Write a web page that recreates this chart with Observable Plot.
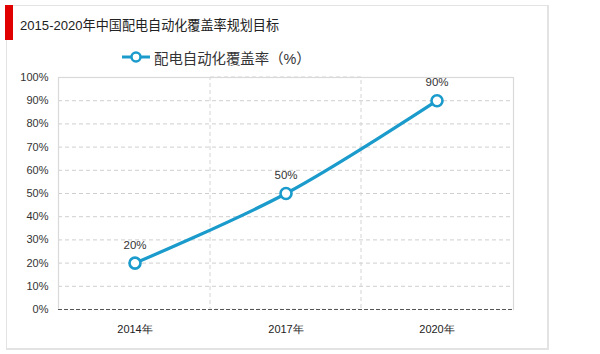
<!DOCTYPE html>
<html><head><meta charset="utf-8">
<script src="https://cdn.jsdelivr.net/npm/d3@7"></script>
<script src="https://cdn.jsdelivr.net/npm/@observablehq/plot@0.6"></script>
<style>
body{margin:0;background:#fff;font-family:"Liberation Sans","Noto Sans CJK SC",Arial,sans-serif;}
#wrap{position:relative;width:600px;height:354px;overflow:hidden;}
#frame{position:absolute;left:6px;top:5px;width:543px;height:345px;border:1.5px solid #e3e3e3;box-sizing:border-box;border-bottom-width:2px;border-right-width:2px;}
#redbar{position:absolute;left:5px;top:5px;width:8px;height:35px;background:#e00000;}
#title{position:absolute;left:20px;top:15px;font-size:13.1px;color:#222;white-space:nowrap;font-family:"Liberation Sans","Noto Sans CJK SC",sans-serif;}
#legend{position:absolute;left:120px;top:47px;height:20px;display:flex;align-items:center;font-size:14.4px;color:#333;white-space:nowrap;}
#chart{position:absolute;left:0;top:0;}
</style></head>
<body><div id="wrap"><div id="frame"></div><div id="redbar"></div>
<div id="title">2015-2020年中国配电自动化覆盖率规划目标</div>
<div id="legend"><svg width="32" height="14"><line x1="2" y1="7" x2="30" y2="7" stroke="#1a9bcb" stroke-width="3"/><circle cx="16" cy="7" r="4.5" fill="#fff" stroke="#1a9bcb" stroke-width="2.5"/></svg><span style="margin-left:2px">配电自动化覆盖率（%）</span></div>
<div id="chart"></div></div>
<script>
const years = ["2014年", "2017年", "2020年"];
const values = [20, 50, 90];
const yTicks = [0, 10, 20, 30, 40, 50, 60, 70, 80, 90, 100];
const gridTicks = [10, 20, 30, 40, 50, 60, 70, 80, 90];

const data = years.map((y, i) => ({year: y, value: values[i]}));
const color = "#1a9bcb";

const chart = Plot.plot({
  width: 600,
  height: 354,
  marginLeft: 58,
  marginRight: 87,
  marginTop: 77,
  marginBottom: 45,
  style: {fontFamily: "Liberation Sans, Arial, sans-serif", fontSize: "11px", color: "#333", background: "transparent"},
  x: {domain: years, padding: 0, label: null},
  y: {domain: [0, 100], label: null},
  marks: [
    Plot.gridY(gridTicks, {stroke: "#cfcfcf", strokeOpacity: 1, strokeDasharray: "4,3"}),
    Plot.cell([years[1]], {x: d => d, fill: "none", stroke: "#d4d4d4", strokeDasharray: "4,3", inset: 0}),
    Plot.frame({stroke: "#d9d9d9", strokeWidth: 1.2}),
    Plot.ruleY([0], {stroke: "#fff", strokeWidth: 2}),
    Plot.ruleY([0], {stroke: "#555", strokeDasharray: "4,2", strokeWidth: 1.2}),
    Plot.axisY(yTicks, {tickSize: 0, tickPadding: 10, tickFormat: d => d + "%", fontSize: 11, fill: "#333"}),
    Plot.axisX({tickSize: 0, tickPadding: 16, fontSize: 11, fill: "#222"}),
    Plot.line(data, {x: "year", y: "value", stroke: color, strokeWidth: 3.2, curve: "catmull-rom"}),
    Plot.dot(data, {x: "year", y: "value", r: 5.5, fill: "#fff", stroke: color, strokeWidth: 2.6}),
    Plot.text(data, {x: "year", y: "value", text: d => d.value + "%", dy: -18, fontSize: 11.5, fill: "#333"})
  ]
});
document.getElementById("chart").appendChild(chart);
</script></body></html>
